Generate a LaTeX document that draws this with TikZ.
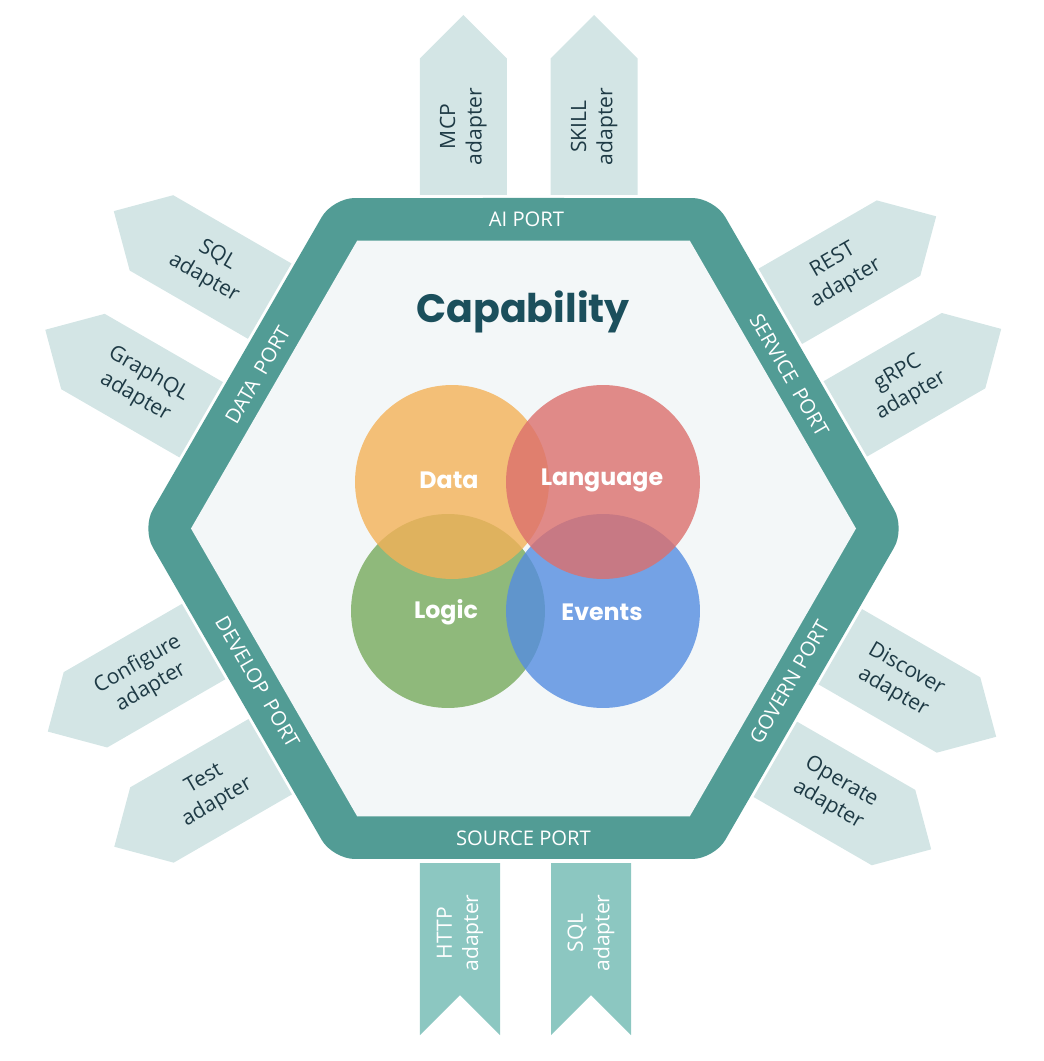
\documentclass[tikz,border=0pt]{standalone}
\usepackage{fontspec}
\setmainfont{Open Sans}
\newfontfamily\popfont{Poppins}
\definecolor{bandc}{HTML}{529C95}
\definecolor{innerc}{HTML}{F3F7F8}
\definecolor{adlight}{HTML}{D3E5E5}
\definecolor{addark}{HTML}{8CC7C1}
\definecolor{adtextc}{HTML}{1E3A45}
\definecolor{titlec}{HTML}{1B4F5C}
\definecolor{datac}{RGB}{243,177,87}
\definecolor{langc}{RGB}{220,111,108}
\definecolor{logicc}{RGB}{119,170,92}
\definecolor{eventc}{RGB}{85,141,225}
\newcommand\sideadapter[5]{%
  \begin{scope}[rotate=#1-90]
    \fill[adlight] (#2-43.5,333.5) -- (#2+43.5,333.5) -- (#2+43.5,470) -- (#2,513.5) -- (#2-43.5,470) -- cycle;
    \node[adtext,rotate=#3] (#4) at (#2,402) {#5};
  \end{scope}}
\newcommand\botadapter[3]{%
  \fill[addark] (#1-40,-334.5) -- (#1+40,-334.5) -- (#1+40,-506.5) -- (#1,-466.5) -- (#1-40,-506.5) -- cycle;
  \node[bottext] (#2) at (#1,-404.5) {#3};}
\begin{document}
\begin{tikzpicture}[x=0.02cm,y=0.02cm,
  adtext/.style={text=adtextc, font=\fontsize{12}{15}\selectfont, align=center, inner sep=0pt},
  bottext/.style={text=white, font=\fontsize{12}{15}\selectfont, align=center, inner sep=0pt, rotate=90},
  port/.style={text=white, font=\fontsize{11.5}{13}\selectfont, inner sep=0pt},
  venn/.style={circle, minimum size=3.88cm, inner sep=0pt, fill opacity=0.8},
  circlab/.style={text=white, font=\popfont\bfseries\fontsize{13.5}{16}\selectfont, inner sep=0pt}]
\useasboundingbox (-523.5,-532.5) rectangle (520.5,528.5);
% hexagon band
\fill[bandc, rounded corners=0.44cm] (90:330.5) -- (120:381.6) -- (180:381.6) -- (240:381.6) -- (300:381.6) -- (0:381.6) -- (60:381.6) -- cycle;
\fill[innerc] (0:332.5) -- (60:332.5) -- (120:332.5) -- (180:332.5) -- (240:332.5) -- (300:332.5) -- cycle;
% adapters
\sideadapter{90}{-60.2}{90}{mcp}{MCP\\adapter}
\sideadapter{90}{70.7}{90}{skill}{SKILL\\adapter}
\sideadapter{150}{70}{-30}{sqlA}{SQL\\adapter}
\sideadapter{150}{-67}{-30}{graphql}{GraphQL\\adapter}
\sideadapter{30}{-64}{30}{rest}{REST\\adapter}
\sideadapter{30}{66}{30}{grpc}{gRPC\\adapter}
\sideadapter{-30}{-56}{-30}{discover}{Discover\\adapter}
\sideadapter{-30}{74}{-30}{operate}{Operate\\adapter}
\sideadapter{-150}{62}{30}{configure}{Configure\\adapter}
\sideadapter{-150}{-71}{30}{test}{Test\\adapter}
\botadapter{-63.5}{http}{HTTP\\adapter}
\botadapter{67.5}{sqlB}{SQL\\adapter}
% port labels
\node[port] (aiport) at (3,309.5) {AI PORT};
\node[port] (sourceport) at (0,-309.5) {SOURCE PORT};
\node[port,rotate=60] (dataport) at (150:307) {DATA\hspace{0.45em}PORT};
\node[port,rotate=-60] (serviceport) at (30:307) {SERVICE\hspace{0.45em}PORT};
\node[port,rotate=-60] (developport) at (-150:307) {DEVELOP\hspace{0.45em}PORT};
\node[port,rotate=60] (governport) at (-30:307) {GOVERN PORT};
% title
\node[text=titlec, font=\popfont\bfseries\fontsize{22.5}{26}\selectfont, inner sep=0pt] (title) at (-0.5,216.5) {Capability};
% venn circles
\node[venn, fill=logicc] (logicC) at (-75.5,-82.5) {};
\node[venn, fill=eventc] (eventC) at (79.5,-82.5) {};
\node[venn, fill=datac] (dataC) at (-71.5,46.5) {};
\node[venn, fill=langc] (langC) at (79.5,46.5) {};
\node[circlab] (dataL) at (-74.5,48.5) {Data};
\node[circlab] (langL) at (78.5,48.5) {Language};
\node[circlab] (logicL) at (-77.5,-83.5) {Logic};
\node[circlab] (eventL) at (78.5,-83.5) {Events};
\end{tikzpicture}
\end{document}
